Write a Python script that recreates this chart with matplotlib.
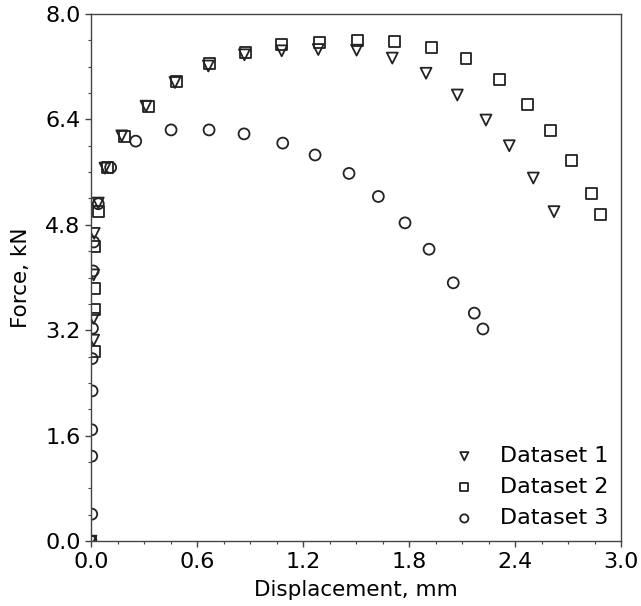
import numpy as np
import matplotlib
matplotlib.use("Agg")
import matplotlib.pyplot as plt
from matplotlib.ticker import MultipleLocator, FormatStrFormatter

# Dataset 1 (triangles)
disp1 = [0.0, 0.015, 0.015, 0.015, 0.018, 0.041, 0.079, 0.174, 0.311, 0.475, 0.664,
         0.868, 1.079, 1.286, 1.503, 1.705, 1.896, 2.073, 2.235, 2.367, 2.503, 2.620]
force1 = [0.0, 3.05, 3.38, 4.04, 4.67, 5.13, 5.66, 6.15, 6.60, 6.96, 7.21,
          7.38, 7.44, 7.46, 7.45, 7.33, 7.10, 6.77, 6.39, 6.00, 5.51, 5.00]

# Dataset 2 (squares)
disp2 = [0.0, 0.02, 0.022, 0.022, 0.022, 0.041, 0.095, 0.188, 0.324, 0.485, 0.669,
         0.872, 1.079, 1.292, 1.508, 1.715, 1.928, 2.122, 2.311, 2.469, 2.598,
         2.720, 2.830, 2.881]
force2 = [0.0, 2.88, 3.52, 3.84, 4.47, 5.00, 5.67, 6.14, 6.60, 6.97, 7.25,
          7.42, 7.53, 7.57, 7.59, 7.58, 7.49, 7.32, 7.01, 6.63, 6.23,
          5.78, 5.28, 4.96]

# Dataset 3 (circles)
disp3 = [0.0, 0.004, 0.004, 0.004, 0.006, 0.006, 0.008, 0.012, 0.015, 0.041, 0.111,
         0.253, 0.453, 0.668, 0.866, 1.085, 1.268, 1.460, 1.626, 1.777, 1.913,
         2.050, 2.169, 2.218]
force3 = [0.0, 0.41, 1.29, 1.69, 2.28, 2.77, 3.23, 4.10, 4.54, 5.12, 5.67,
          6.07, 6.24, 6.24, 6.18, 6.04, 5.86, 5.58, 5.23, 4.83, 4.43,
          3.92, 3.46, 3.22]

labels = ["Dataset 1", "Dataset 2", "Dataset 3"]

fig = plt.figure(figsize=(6.41, 6.06), dpi=100)
ax = fig.add_axes([0.142, 0.107, 0.827, 0.870])

edge = "#222222"
ms = 62
ax.scatter(disp1, force1, s=ms, marker="v", facecolors="none", edgecolors=edge,
           linewidths=1.3, label=labels[0])
ax.scatter(disp2, force2, s=ms, marker="s", facecolors="none", edgecolors=edge,
           linewidths=1.3, label=labels[1])
ax.scatter(disp3, force3, s=ms, marker="o", facecolors="none", edgecolors=edge,
           linewidths=1.3, label=labels[2])

ax.set_xlim(0, 3.0)
ax.set_ylim(0, 8.0)
ax.xaxis.set_major_locator(MultipleLocator(0.6))
ax.xaxis.set_minor_locator(MultipleLocator(0.15))
ax.yaxis.set_major_locator(MultipleLocator(1.6))
ax.yaxis.set_minor_locator(MultipleLocator(0.4))
ax.xaxis.set_major_formatter(FormatStrFormatter("%.1f"))
ax.yaxis.set_major_formatter(FormatStrFormatter("%.1f"))

for sp in ax.spines.values():
    sp.set_color("#444444")
    sp.set_linewidth(1.0)
ax.tick_params(which="major", direction="out", length=4, width=1, color="#444444",
               labelsize=16, top=False, right=False)
ax.tick_params(which="minor", direction="out", length=2, width=0.8, color="#444444",
               top=False, right=False)

ax.set_xlabel("Displacement, mm", fontsize=15.5, labelpad=6)
ax.set_ylabel("Force, kN", fontsize=15.5, labelpad=10)

ax.legend(loc="lower right", frameon=False, fontsize=16, markerscale=0.75,
          handletextpad=0.6, labelspacing=0.5, borderaxespad=0.18)

fig.savefig("out.png", dpi=100)
